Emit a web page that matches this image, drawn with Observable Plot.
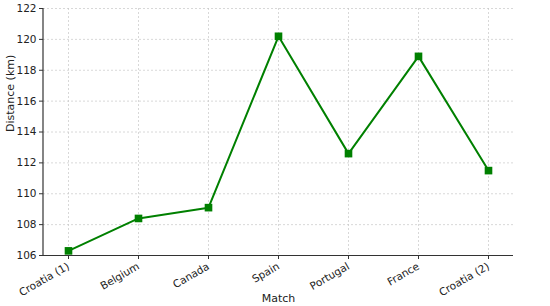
<!DOCTYPE html>
<html>
<head>
<meta charset="utf-8">
<script src="https://cdn.jsdelivr.net/npm/d3@7"></script>
<script src="https://cdn.jsdelivr.net/npm/@observablehq/plot@0.6"></script>
<style>
  html, body { margin: 0; padding: 0; background: #fff; }
  #chart svg { display: block; }
  #chart svg, #chart svg text { font-family: "DejaVu Sans", sans-serif; }
</style>
</head>
<body>
<div id="chart"></div>
<script>
const matches = ["Croatia (1)", "Belgium", "Canada", "Spain", "Portugal", "France", "Croatia (2)"];
const distances = [106.3, 108.4, 109.1, 120.2, 112.6, 118.9, 111.5];
const yTicks = [106, 108, 110, 112, 114, 116, 118, 120, 122];

const data = matches.map((m, i) => ({match: m, distance: distances[i]}));

const leftSpine = (index, scales, values, dimensions) => {
  const g = d3.create("svg:g");
  g.append("line")
    .attr("x1", dimensions.marginLeft).attr("x2", dimensions.marginLeft)
    .attr("y1", dimensions.height - dimensions.marginBottom).attr("y2", dimensions.marginTop)
    .attr("stroke", "#333").attr("stroke-width", 1.2);
  return g.node();
};

const chart = Plot.plot({
  width: 550,
  height: 306,
  marginLeft: 43,
  marginRight: 37,
  marginTop: 8,
  marginBottom: 51,
  style: {fontFamily: "DejaVu Sans", fontSize: "10px", color: "#222", background: "#fff"},
  x: {type: "point", domain: matches, padding: 0.31, label: null},
  y: {domain: [106, 122], label: null},
  marks: [
    Plot.gridX(matches, {stroke: "#c8c8c8", strokeOpacity: 0.7, strokeDasharray: "2,2"}),
    Plot.gridY(yTicks, {stroke: "#c8c8c8", strokeOpacity: 0.7, strokeDasharray: "2,2"}),
    Plot.axisX({tickRotate: -30, tickSize: 4, tickPadding: 6, stroke: "#333", fontSize: 10.5, fontFamily: "DejaVu Sans", fill: "#222", label: null}),
    Plot.axisY({ticks: yTicks, tickSize: 4, tickPadding: 3, stroke: "#333", fontSize: 10.5, fontFamily: "DejaVu Sans", fill: "#222", label: null}),
    Plot.ruleY([106], {stroke: "#333", strokeWidth: 1.2}),
    leftSpine,
    Plot.line(data, {x: "match", y: "distance", stroke: "#008000", strokeWidth: 2}),
    Plot.dot(data, {x: "match", y: "distance", symbol: "square", r: 4.3, fill: "#008000", stroke: "none"}),
    Plot.text(["Match"], {frameAnchor: "bottom", dy: 46, fontSize: 11, fontFamily: "DejaVu Sans", fill: "#222"}),
    Plot.text(["Distance (km)"], {frameAnchor: "left", dx: -33, rotate: -90, fontSize: 11, fontFamily: "DejaVu Sans", fill: "#222"})
  ]
});
document.getElementById("chart").appendChild(chart);
</script>
</body>
</html>
